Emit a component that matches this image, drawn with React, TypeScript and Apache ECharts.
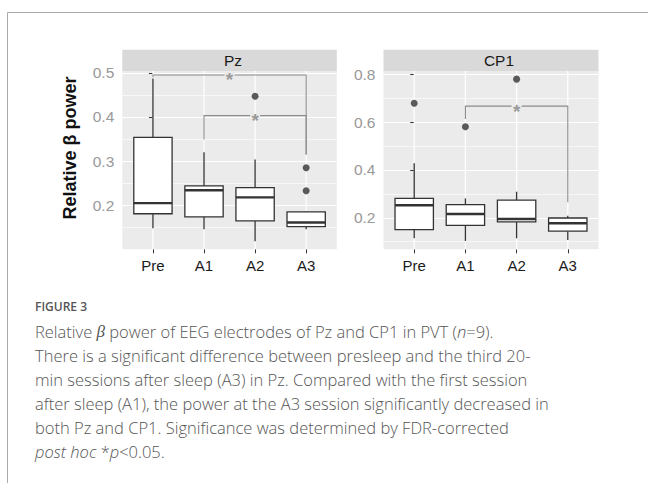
import React, { useEffect, useRef } from "react";
import * as echarts from "echarts";

const categories = ["Pre", "A1", "A2", "A3"];
const panelTitles = ["Pz", "CP1"];
// [lower whisker, Q1, median, Q3, upper whisker]
const pzBoxes = [
  [0.148, 0.181, 0.205, 0.354, 0.487],
  [0.146, 0.174, 0.234, 0.244, 0.32],
  [0.119, 0.165, 0.218, 0.24, 0.304],
  [0.146, 0.152, 0.161, 0.185, 0.186],
];
const pzOutliers = [
  [2, 0.447],
  [3, 0.285],
  [3, 0.233],
];
const cp1Boxes = [
  [0.114, 0.15, 0.252, 0.281, 0.428],
  [0.103, 0.168, 0.216, 0.255, 0.281],
  [0.114, 0.183, 0.195, 0.274, 0.309],
  [0.107, 0.144, 0.177, 0.199, 0.208],
];
const cp1Outliers = [
  [0, 0.679],
  [1, 0.581],
  [2, 0.78],
];
// [from index, to index, bar y, left tip y, right tip y]
const pzBrackets = [
  [0, 3, 0.495, 0.49, 0.315],
  [1, 3, 0.403, 0.349, 0.315],
];
const cp1Brackets = [[1, 3, 0.667, 0.613, 0.265]];
const pzTicks = [0.2, 0.3, 0.4, 0.5];
const cp1Ticks = [0.2, 0.4, 0.6, 0.8];
const yTitle = "Relative β power";
const figureLabel = "FIGURE 3";
const captionLines = [
  "Relative {b|β} power of EEG electrodes of Pz and CP1 in PVT ({i|n}=9).",
  "There is a significant difference between presleep and the third 20-",
  "min sessions after sleep (A3) in Pz. Compared with the first session",
  "after sleep (A1), the power at the A3 session significantly decreased in",
  "both Pz and CP1. Significance was determined by FDR-corrected",
  "{i|post hoc} *{i|p}<0.05.",
];

const SANS = "'Liberation Sans', Arial, sans-serif";
const CAP_FONT = "'Open Sans', 'Noto Sans', sans-serif";
const PANEL_BG = "#EBEBEB";
const STRIP_BG = "#D9D9D9";

const PANELS = [
  { left: 122.3, top: 71, width: 214.5, height: 178.3, yMin: 0.1005, yMax: 0.504, step: 0.1 },
  { left: 383.5, top: 71, width: 215, height: 178.3, yMin: 0.068, yMax: 0.814, step: 0.2 },
];

function vgridRender(params: any, api: any) {
  const cs = params.coordSys;
  const p = api.coord([api.value(0), api.value(1)]);
  return {
    type: "line",
    shape: { x1: p[0], y1: cs.y, x2: p[0], y2: cs.y + cs.height },
    style: { stroke: "#FFFFFF", lineWidth: 1.2 },
    silent: true,
  };
}

function boxRender(params: any, api: any) {
  const x = api.value(0);
  const lo = api.coord([x, api.value(1)]);
  const q1 = api.coord([x, api.value(2)]);
  const med = api.coord([x, api.value(3)]);
  const q3 = api.coord([x, api.value(4)]);
  const hi = api.coord([x, api.value(5)]);
  const half = api.size([0.75, 0])[0] / 2;
  const stroke = "#333333";
  return {
    type: "group",
    children: [
      { type: "line", shape: { x1: hi[0], y1: hi[1], x2: q3[0], y2: q3[1] }, style: { stroke, lineWidth: 1.3 } },
      { type: "line", shape: { x1: q1[0], y1: q1[1], x2: lo[0], y2: lo[1] }, style: { stroke, lineWidth: 1.3 } },
      {
        type: "rect",
        shape: { x: q3[0] - half, y: q3[1], width: half * 2, height: q1[1] - q3[1] },
        style: { fill: "#FFFFFF", stroke, lineWidth: 1.3 },
      },
      {
        type: "line",
        shape: { x1: med[0] - half, y1: med[1], x2: med[0] + half, y2: med[1] },
        style: { stroke, lineWidth: 2.4 },
      },
    ],
  };
}

function bracketRender(params: any, api: any) {
  const a = api.value(0);
  const b = api.value(1);
  const y = api.value(2);
  const p1 = api.coord([a, api.value(3)]);
  const p2 = api.coord([a, y]);
  const p3 = api.coord([b, y]);
  const p4 = api.coord([b, api.value(4)]);
  const mid = api.coord([(a + b) / 2, y]);
  return {
    type: "group",
    children: [
      {
        type: "polyline",
        shape: { points: [p1, p2, p3, p4] },
        style: { stroke: "#8C8C8C", lineWidth: 1.1, fill: null },
      },
      {
        type: "rect",
        shape: { x: mid[0] - 5, y: mid[1] - 2, width: 10, height: 4 },
        style: { fill: PANEL_BG },
      },
      {
        type: "text",
        x: mid[0],
        y: mid[1] + 5,
        style: {
          text: "*",
          fill: "#9A9A9A",
          fontSize: 19,
          fontWeight: "bold",
          fontFamily: SANS,
          align: "center",
          verticalAlign: "middle",
        },
      },
    ],
  };
}

export default function App() {
  const ref = useRef<HTMLDivElement>(null);

  useEffect(() => {
    if (!ref.current) return;
    const chart = echarts.init(ref.current, null, { renderer: "svg" });

    const boxSets = [pzBoxes, cp1Boxes];
    const outlierSets = [pzOutliers, cp1Outliers];
    const bracketSets = [pzBrackets, cp1Brackets];
    const tickSets = [pzTicks, cp1Ticks];

    const grids = PANELS.map((p) => ({
      left: p.left,
      top: p.top,
      width: p.width,
      height: p.height,
      show: true,
      backgroundColor: PANEL_BG,
      borderWidth: 0,
      containLabel: false,
    }));

    const xAxes = PANELS.map((p, i) => ({
      type: "value",
      gridIndex: i,
      min: -0.6,
      max: 3.6,
      minInterval: 1,
      maxInterval: 1,
      axisLine: { show: false },
      axisTick: { show: true, length: 4, customValues: [0, 1, 2, 3], lineStyle: { color: "#333333", width: 1 } },
      axisLabel: {
        show: true,
        customValues: [0, 1, 2, 3],
        formatter: (v: number) => categories[Math.round(v)] ?? "",
        color: "#1A1A1A",
        fontSize: 15,
        fontFamily: SANS,
        margin: 9,
      },
      splitLine: { show: false },
    }));

    const yAxes = PANELS.map((p, i) => ({
      type: "value",
      gridIndex: i,
      min: p.yMin,
      max: p.yMax,
      minInterval: p.step,
      maxInterval: p.step,
      axisLine: { show: false },
      axisTick: { show: true, length: 4, customValues: tickSets[i], lineStyle: { color: "#333333", width: 1 } },
      axisLabel: {
        show: true,
        customValues: tickSets[i],
        formatter: (v: number) => v.toFixed(1),
        color: "#999999",
        fontSize: 15.5,
        fontFamily: SANS,
        margin: 8,
      },
      splitLine: { show: true, lineStyle: { color: "#FFFFFF", width: 1.2 } },
      minorTick: { show: false, splitNumber: 2 },
      minorSplitLine: { show: true, lineStyle: { color: "#FFFFFF", width: 0.6 } },
    }));

    const series: any[] = [];
    PANELS.forEach((p, i) => {
      series.push({
        type: "custom",
        xAxisIndex: i,
        yAxisIndex: i,
        z: 1,
        silent: true,
        data: categories.map((_, k) => [k, boxSets[i][k][2]]),
        encode: { x: 0, y: 1 },
        renderItem: vgridRender,
      });
      series.push({
        type: "custom",
        xAxisIndex: i,
        yAxisIndex: i,
        z: 2,
        data: boxSets[i].map((b, k) => [k, ...b]),
        encode: { x: 0, y: [1, 2, 3, 4, 5] },
        renderItem: boxRender,
      });
      series.push({
        type: "scatter",
        xAxisIndex: i,
        yAxisIndex: i,
        z: 3,
        symbol: "circle",
        symbolSize: 7,
        itemStyle: { color: "#333333" },
        data: outlierSets[i],
      });
      series.push({
        type: "custom",
        xAxisIndex: i,
        yAxisIndex: i,
        z: 4,
        data: bracketSets[i],
        encode: { x: [0, 1], y: [2, 3, 4] },
        renderItem: bracketRender,
      });
    });

    const graphics: any[] = [
      { type: "line", shape: { x1: 7.5, y1: 12.5, x2: 648, y2: 12.5 }, style: { stroke: "#AAAAAA", lineWidth: 1 } },
      { type: "line", shape: { x1: 7.5, y1: 12.5, x2: 7.5, y2: 483 }, style: { stroke: "#AAAAAA", lineWidth: 1 } },
    ];
    const stripTextX = [233, 499];
    PANELS.forEach((p, i) => {
      graphics.push({
        type: "rect",
        z: 10,
        shape: { x: p.left, y: 49.7, width: p.width, height: p.top - 49.7 },
        style: { fill: STRIP_BG },
      });
      graphics.push({
        type: "text",
        z: 11,
        x: stripTextX[i],
        y: (49.7 + p.top) / 2 + 0.5,
        style: {
          text: panelTitles[i],
          fill: "#1A1A1A",
          fontSize: 15.5,
          fontFamily: SANS,
          align: "center",
          verticalAlign: "middle",
        },
      });
    });
    graphics.push({
      type: "text",
      x: 69.5,
      y: 148,
      rotation: Math.PI / 2,
      style: {
        text: yTitle,
        fill: "#111111",
        fontSize: 18,
        fontWeight: "bold",
        fontFamily: SANS,
        align: "center",
        verticalAlign: "middle",
      },
    });
    graphics.push({
      type: "text",
      x: 35,
      y: 306.7,
      style: {
        text: figureLabel,
        fill: "#555555",
        fontSize: 12,
        fontWeight: 600,
        fontFamily: CAP_FONT,
        align: "left",
        verticalAlign: "middle",
      },
    });
    captionLines.forEach((line, k) => {
      graphics.push({
        type: "text",
        x: 35,
        y: 331 + k * 24,
        style: {
          text: line,
          fill: "#555555",
          fontSize: 16.5,
          fontWeight: 300,
          fontFamily: CAP_FONT,
          align: "left",
          verticalAlign: "middle",
          rich: {
            i: { fontStyle: "italic", fontSize: 16.5, fontWeight: 300, fontFamily: CAP_FONT, fill: "#555555" },
            b: { fontStyle: "italic", fontSize: 17, fontFamily: "'Liberation Serif', 'DejaVu Serif', serif", fill: "#555555" },
          },
        },
      });
    });

    chart.setOption({
      animation: false,
      backgroundColor: "#FFFFFF",
      grid: grids,
      xAxis: xAxes,
      yAxis: yAxes,
      series,
      graphic: { elements: graphics },
    });

    return () => {
      chart.dispose();
    };
  }, []);

  return (
    <div
      ref={ref}
      style={{ position: "fixed", left: 0, top: 0, width: 648, height: 483, background: "#FFFFFF" }}
    />
  );
}
